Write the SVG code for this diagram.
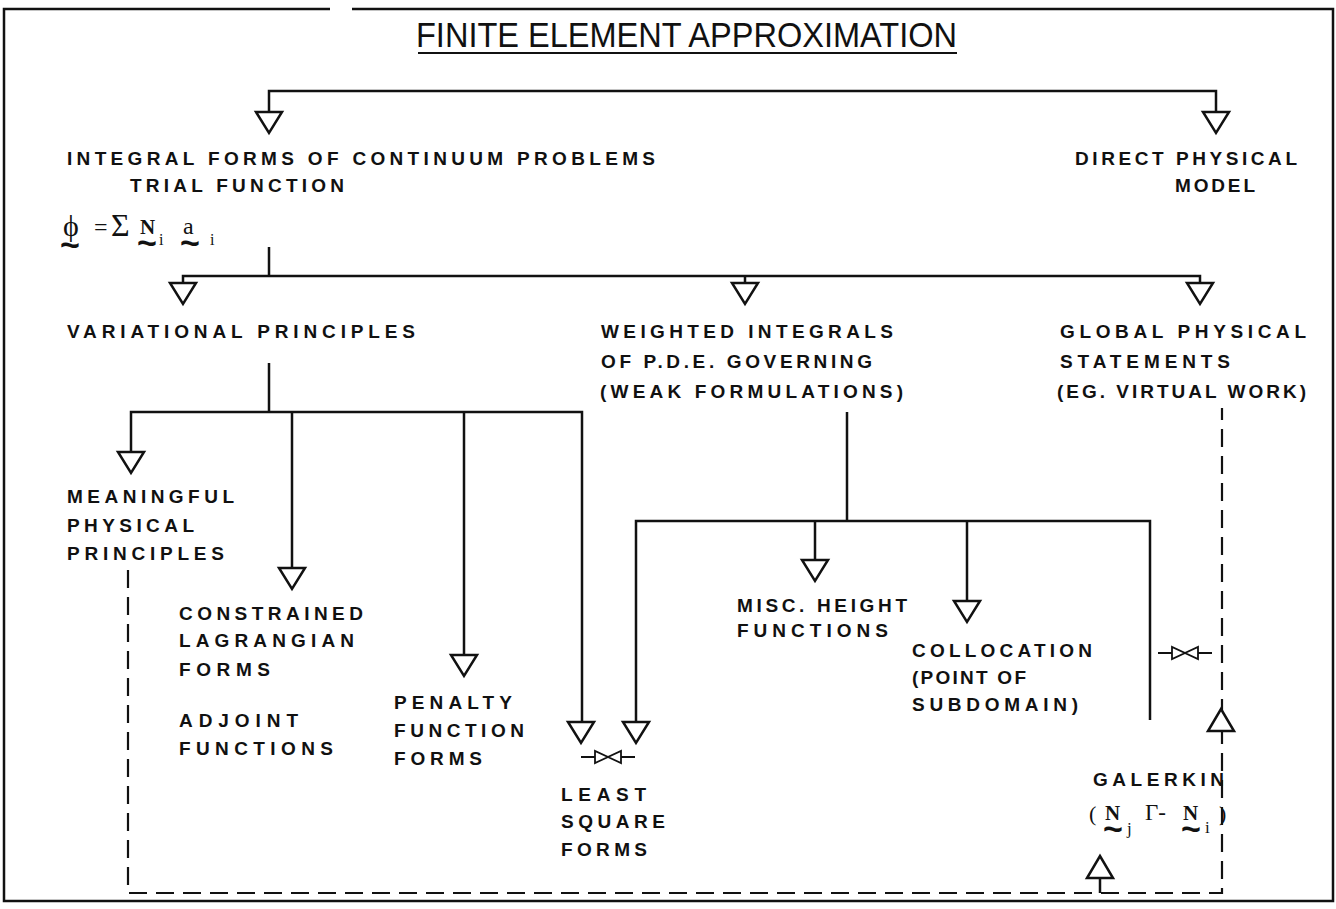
<svg xmlns="http://www.w3.org/2000/svg" xmlns:xlink="http://www.w3.org/1999/xlink" width="1336" height="909" viewBox="0 0 1336 909">
<style>
.t{font-family:"Liberation Sans",Arial,sans-serif;font-weight:bold;font-size:19px;fill:#111}
.title{font-family:"Liberation Sans",Arial,sans-serif;font-size:35px;fill:#111}
.m{font-family:"Liberation Serif","Times New Roman",serif;fill:#111}
.tl{font-family:"Liberation Sans",Arial,sans-serif;font-weight:bold;font-size:34px;fill:#111}
.ln{fill:none;stroke:#111;stroke-width:2.5}
.dash{fill:none;stroke:#111;stroke-width:2.2;stroke-dasharray:18 9}
.arr{fill:#fff;stroke:#111;stroke-width:2.5;stroke-linejoin:miter}
.bt{fill:#fff;stroke:#111;stroke-width:1.8}
</style>
<defs>
<path id="ad" class="arr" d="M-13,0 H13 L0,21 Z"/>
<path id="au" class="arr" d="M-13,0 H13 L0,-22 Z"/>
<g id="bow"><path class="ln" style="stroke-width:1.8" d="M-27,0 H27"/><path class="bt" d="M-13,-6 L-13,6 L0,0 Z"/><path class="bt" d="M13,-6 L13,6 L0,0 Z"/></g>
</defs>
<rect width="1336" height="909" fill="#fff"/>
<g id="border">
<path class="ln" d="M352,9 H1333 V901 H4 V9 H330"/>
</g>
<g id="title">
<text class="title" x="416" y="47" textLength="541" lengthAdjust="spacingAndGlyphs">FINITE ELEMENT APPROXIMATION</text>
<path class="ln" style="stroke-width:2" d="M418,53 H957"/>
</g>
<g id="connectors">
<path class="ln" d="M269,112 V91 H1216 V112"/>
<path class="ln" d="M269,247 V276 M183,283 V276 H1200 V283 M745,276 V283"/>
<path class="ln" d="M269,363 V412 M131,452 V412 H582 V722 M292,412 V568 M464,412 V655"/>
<path class="ln" d="M847,412 V521 M636,722 V521 H1150 V720 M815,521 V560 M967,521 V601"/>
<path class="dash" d="M128,570 V893 H1222 V408"/>
<path class="ln" d="M1100,878 V893"/>
<use href="#ad" x="269" y="112"/>
<use href="#ad" x="1216" y="112"/>
<use href="#ad" x="183" y="283"/>
<use href="#ad" x="745" y="283"/>
<use href="#ad" x="1200" y="283"/>
<use href="#ad" x="131" y="452"/>
<use href="#ad" x="292" y="568"/>
<use href="#ad" x="464" y="655"/>
<use href="#ad" x="581" y="722"/>
<use href="#ad" x="636" y="722"/>
<use href="#ad" x="815" y="560"/>
<use href="#ad" x="967" y="601"/>
<use href="#au" x="1221" y="731"/>
<use href="#au" x="1100" y="878"/>
<use href="#bow" x="608" y="757"/>
<use href="#bow" x="1185" y="653"/>
</g>
<g id="integral-forms">
<text class="t" x="67" y="165" textLength="588" lengthAdjust="spacing">INTEGRAL FORMS OF CONTINUUM PROBLEMS</text>
<text class="t" x="130" y="192" textLength="214" lengthAdjust="spacing">TRIAL FUNCTION</text>
<text class="m" x="63" y="236" font-size="30">ϕ</text>
<text class="tl" x="60" y="256">~</text>
<text class="m" x="94" y="235" font-size="24">=</text>
<text class="m" x="111" y="236" font-size="32">Σ</text>
<text class="m" x="140" y="234" font-size="21" font-weight="bold">N</text>
<text class="tl" x="137" y="254">~</text>
<text class="m" x="159" y="245" font-size="16">i</text>
<text class="m" x="183" y="234" font-size="24">a</text>
<text class="tl" x="180" y="254">~</text>
<text class="m" x="210" y="245" font-size="16">i</text>
</g>
<g id="direct-physical">
<text class="t" x="1075" y="165" textLength="222" lengthAdjust="spacing">DIRECT PHYSICAL</text>
<text class="t" x="1175" y="192" textLength="80" lengthAdjust="spacing">MODEL</text>
</g>
<g id="variational">
<text class="t" x="67" y="338" textLength="348" lengthAdjust="spacing">VARIATIONAL PRINCIPLES</text>
</g>
<g id="weighted">
<text class="t" x="601" y="338" textLength="292" lengthAdjust="spacing">WEIGHTED INTEGRALS</text>
<text class="t" x="601" y="368" textLength="271" lengthAdjust="spacing">OF P.D.E. GOVERNING</text>
<text class="t" x="600" y="398" textLength="303" lengthAdjust="spacing">(WEAK FORMULATIONS)</text>
</g>
<g id="global">
<text class="t" x="1060" y="338" textLength="246" lengthAdjust="spacing">GLOBAL PHYSICAL</text>
<text class="t" x="1060" y="368" textLength="170" lengthAdjust="spacing">STATEMENTS</text>
<text class="t" x="1057" y="398" textLength="249" lengthAdjust="spacing">(EG. VIRTUAL WORK)</text>
</g>
<g id="meaningful">
<text class="t" x="67" y="503" textLength="167" lengthAdjust="spacing">MEANINGFUL</text>
<text class="t" x="67" y="532" textLength="127" lengthAdjust="spacing">PHYSICAL</text>
<text class="t" x="67" y="560" textLength="157" lengthAdjust="spacing">PRINCIPLES</text>
</g>
<g id="constrained">
<text class="t" x="179" y="620" textLength="184" lengthAdjust="spacing">CONSTRAINED</text>
<text class="t" x="179" y="647" textLength="175" lengthAdjust="spacing">LAGRANGIAN</text>
<text class="t" x="179" y="676" textLength="91" lengthAdjust="spacing">FORMS</text>
<text class="t" x="179" y="727" textLength="119" lengthAdjust="spacing">ADJOINT</text>
<text class="t" x="179" y="755" textLength="154" lengthAdjust="spacing">FUNCTIONS</text>
</g>
<g id="penalty">
<text class="t" x="394" y="709" textLength="118" lengthAdjust="spacing">PENALTY</text>
<text class="t" x="394" y="737" textLength="130" lengthAdjust="spacing">FUNCTION</text>
<text class="t" x="394" y="765" textLength="88" lengthAdjust="spacing">FORMS</text>
</g>
<g id="least-square">
<text class="t" x="561" y="801" textLength="85" lengthAdjust="spacing">LEAST</text>
<text class="t" x="561" y="828" textLength="104" lengthAdjust="spacing">SQUARE</text>
<text class="t" x="561" y="856" textLength="86" lengthAdjust="spacing">FORMS</text>
</g>
<g id="misc">
<text class="t" x="737" y="612" textLength="170" lengthAdjust="spacing">MISC. HEIGHT</text>
<text class="t" x="737" y="637" textLength="151" lengthAdjust="spacing">FUNCTIONS</text>
</g>
<g id="collocation">
<text class="t" x="912" y="657" textLength="180" lengthAdjust="spacing">COLLOCATION</text>
<text class="t" x="912" y="684" textLength="114" lengthAdjust="spacing">(POINT OF</text>
<text class="t" x="912" y="711" textLength="166" lengthAdjust="spacing">SUBDOMAIN)</text>
</g>
<g id="galerkin">
<text class="t" x="1093" y="786" textLength="131" lengthAdjust="spacing">GALERKIN</text>
<text class="m" x="1089" y="821" font-size="22">(</text>
<text class="m" x="1105" y="820" font-size="21" font-weight="bold">N</text>
<text class="tl" x="1103" y="840">~</text>
<text class="m" x="1127" y="834" font-size="17">j</text>
<text class="m" x="1145" y="820" font-size="23">Γ-</text>
<text class="m" x="1183" y="820" font-size="21" font-weight="bold">N</text>
<text class="tl" x="1181" y="840">~</text>
<text class="m" x="1205" y="833" font-size="17">i</text>
<text class="m" x="1219" y="821" font-size="22">)</text>
</g>
</svg>
